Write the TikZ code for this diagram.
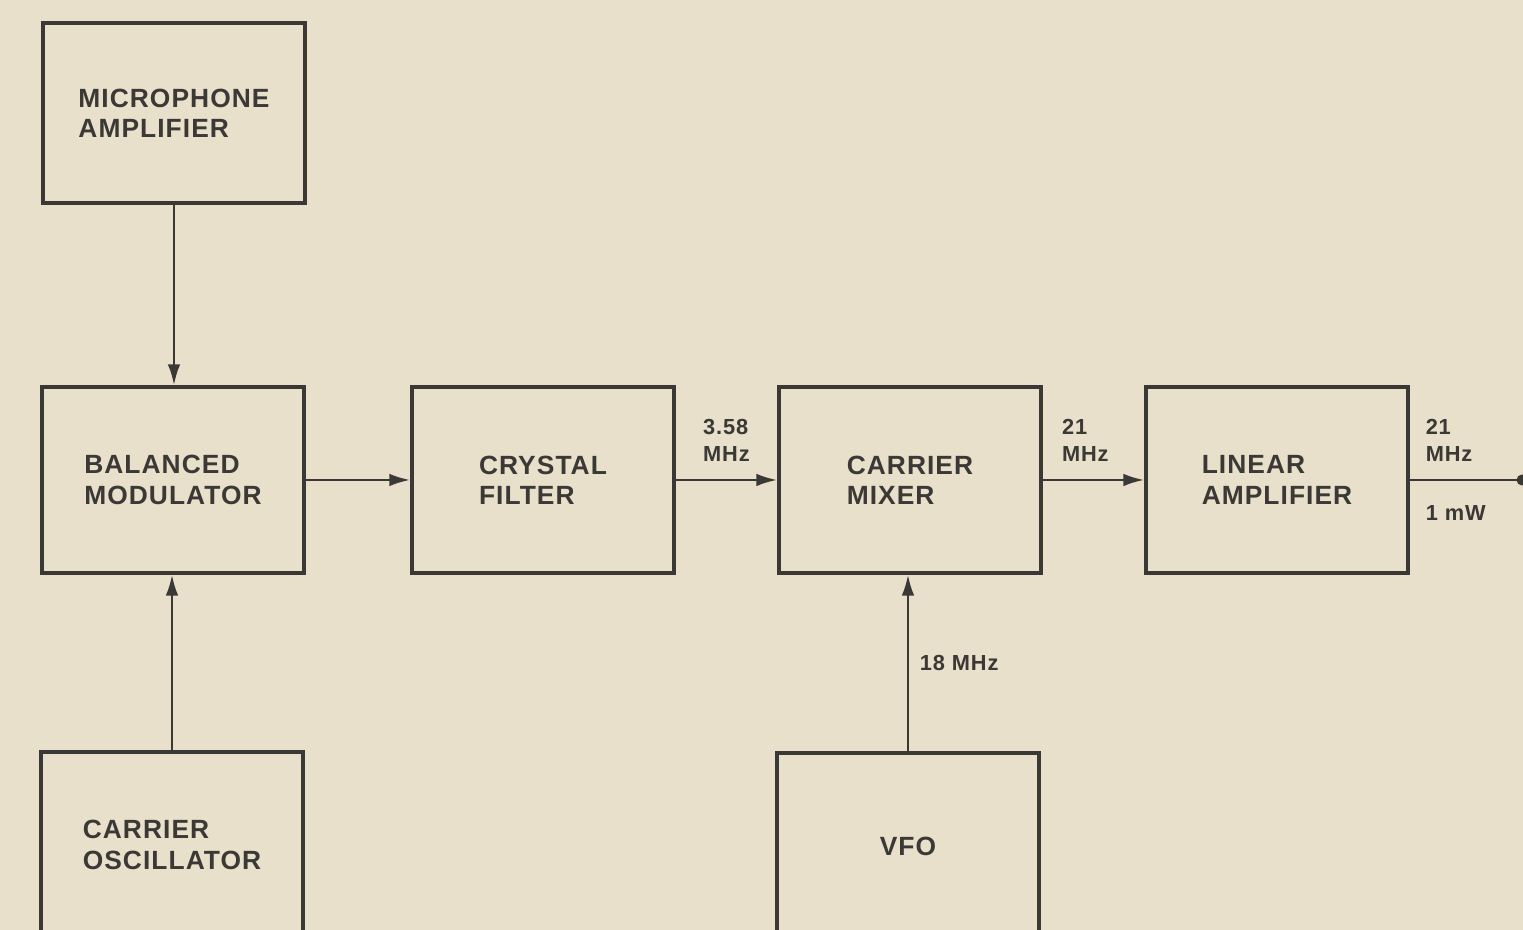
\documentclass[tikz,border=0pt]{standalone}
\usepackage{fontspec}
\setmainfont{Liberation Sans}
\newfontfamily\blockfont[LetterSpace=4]{Liberation Sans}
\usepackage{tikz}
\usetikzlibrary{arrows.meta,positioning}
\definecolor{Paper}{HTML}{E8E0CB}
\definecolor{Ink}{HTML}{3B3935}

\begin{document}
\begin{tikzpicture}[every node/.style={text=Ink},
  blk/.style={draw=Ink, line width=0.9pt, minimum width=2.62cm, minimum height=1.86cm,
    align=left, font={\blockfont\bfseries\fontsize{7.5}{8.6}\selectfont}},
  sig/.style={align=left, inner sep=1pt, font={\blockfont\bfseries\fontsize{6.2}{7.4}\selectfont}},
  wire/.style={draw=Ink, line width=0.8pt, -{Latex[length=6pt,width=3.6pt]}}]
  \fill[Paper] (0,0) rectangle (15.23,9.30);
  \useasboundingbox (0,0) rectangle (15.23,9.30);
  \clip (0,0) rectangle (15.23,9.30);
  \node[blk, minimum height=1.8cm] (mic) at (1.74,8.17) {MICROPHONE\\AMPLIFIER};
  \node[blk] (balmod) at (1.73,4.50) {BALANCED\\MODULATOR};
  \node[blk] (xtal) at (5.43,4.50) {CRYSTAL\\FILTER};
  \node[blk] (mixer) at (9.10,4.50) {CARRIER\\MIXER};
  \node[blk] (linamp) at (12.77,4.50) {LINEAR\\AMPLIFIER};
  \node[blk] (osc) at (1.72,0.85) {CARRIER\\OSCILLATOR};
  \node[blk] (vfo) at (9.08,0.84) {VFO};
  \coordinate (out) at (15.22,4.50);
  \draw[wire] (mic.south) -- (mic.south |- balmod.north);
  \draw[wire] (osc.north) -- (osc.north |- balmod.south);
  \draw[wire] (balmod.east) -- (xtal.west);
  \draw[wire] (xtal.east) -- node[sig, above=4pt] {3.58\\MHz} (mixer.west);
  \draw[wire] (mixer.east) -- node[sig, pos=0.42, above=4pt] {21\\MHz} (linamp.west);
  \draw[wire] (vfo.north) -- node[sig, right=2pt] {18 MHz} (vfo.north |- mixer.south);
  \draw[draw=Ink, line width=0.8pt] (linamp.east) -- node[sig, pos=0.1, anchor=south west, yshift=4pt] {21\\MHz}
    node[sig, pos=0.1, anchor=north west, yshift=-6pt] {1 mW} (out);
  \fill[Ink] (out) circle (0.055);
\end{tikzpicture}
\end{document}
